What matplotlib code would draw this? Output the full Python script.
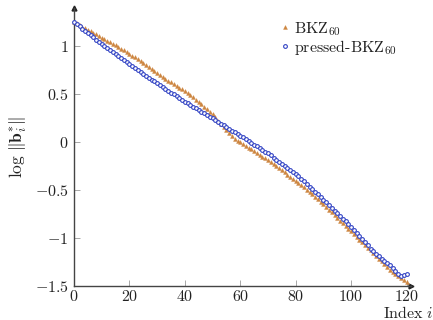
import numpy as np
import matplotlib
matplotlib.use("Agg")
import matplotlib.pyplot as plt

plt.rcParams['mathtext.fontset'] = 'cm'
plt.rcParams['font.family'] = ['DejaVu Serif']

# Data (log ||b_i^*|| per index)
bkz60 = [1.250, 1.234, 1.217, 1.201, 1.185, 1.168, 1.152, 1.136, 1.120, 1.103,
         1.087, 1.071, 1.054, 1.038, 1.022, 1.005, 0.989, 0.973, 0.957, 0.940,
         0.920, 0.900, 0.880, 0.860, 0.840, 0.820, 0.800, 0.780,
         0.760, 0.740, 0.720, 0.700, 0.680, 0.660, 0.640, 0.620, 0.600,
         0.583, 0.565, 0.548, 0.530,
         0.508, 0.486, 0.464, 0.442, 0.420,
         0.394, 0.368, 0.342, 0.316, 0.290,
         0.256, 0.222, 0.188, 0.154, 0.120,
         0.090, 0.060, 0.030,
         0.012, -0.005,
         -0.023, -0.041, -0.059, -0.077, -0.095,
         -0.114, -0.133, -0.152, -0.171, -0.190,
         -0.211, -0.233, -0.254, -0.275, -0.296, -0.318, -0.339, -0.360,
         -0.383, -0.406, -0.429, -0.451, -0.474, -0.497, -0.520,
         -0.546, -0.572, -0.598, -0.624, -0.650,
         -0.678, -0.706, -0.734, -0.762, -0.790, -0.818, -0.846, -0.874, -0.902, -0.930,
         -0.959, -0.987, -1.016, -1.044, -1.073, -1.101, -1.130,
         -1.158, -1.187, -1.215,
         -1.244, -1.273, -1.301, -1.330,
         -1.353, -1.377, -1.400,
         -1.420, -1.440, -1.460]

pressed_bkz60 = [1.250, 1.227, 1.204, 1.181, 1.158, 1.135, 1.112, 1.089, 1.066, 1.043, 1.020,
                 0.999, 0.978, 0.957, 0.936, 0.915, 0.894, 0.873, 0.852, 0.831, 0.810,
                 0.790, 0.770, 0.750, 0.730, 0.710, 0.690, 0.670, 0.650, 0.630, 0.610,
                 0.591, 0.572, 0.553, 0.534, 0.515, 0.496, 0.477, 0.458, 0.439, 0.420,
                 0.403, 0.385, 0.368, 0.350, 0.333, 0.315, 0.298, 0.280, 0.263, 0.245,
                 0.227, 0.209, 0.191, 0.173, 0.155, 0.137, 0.119, 0.101, 0.083, 0.065,
                 0.047, 0.028, 0.010, -0.009, -0.028, -0.046, -0.065, -0.083, -0.102, -0.120,
                 -0.141, -0.162, -0.183, -0.204, -0.225, -0.246, -0.267, -0.288, -0.309, -0.330,
                 -0.357, -0.384, -0.411, -0.438, -0.465, -0.492, -0.519, -0.546, -0.573, -0.600,
                 -0.629, -0.657, -0.686, -0.714, -0.743, -0.771, -0.800, -0.828, -0.857, -0.885,
                 -0.917, -0.949, -0.981, -1.013, -1.045, -1.077, -1.110,
                 -1.137, -1.163, -1.190,
                 -1.214, -1.238, -1.262, -1.286, -1.310,
                 -1.345, -1.380, -1.395, -1.390, -1.370]

xticks = [0, 20, 40, 60, 80, 100, 120]
yticks = [-1.5, -1, -0.5, 0, 0.5, 1]
ytick_labels = [r'$-1.5$', r'$-1$', r'$-0.5$', r'$0$', r'$0.5$', r'$1$']

W, H = 433, 320
fig = plt.figure(figsize=(W / 100, H / 100), dpi=100)
ax = fig.add_axes([74 / W, (H - 286) / H, 337 / W, 278 / H])

orange = '#cd853f'
blue = '#3344c4'

x1 = np.arange(len(bkz60))
x2 = np.arange(len(pressed_bkz60))
ax.plot(x1, bkz60, linestyle='none', marker='^', ms=2.8, color=orange,
        markeredgewidth=0.3, label=r'$\mathrm{BKZ}_{60}$', clip_on=False, zorder=3)
ax.plot(x2, pressed_bkz60, linestyle='none', marker='o', ms=2.7, markerfacecolor='white',
        markeredgecolor=blue, markeredgewidth=0.8, label=r'$\mathrm{pressed}\text{-}\mathrm{BKZ}_{60}$',
        clip_on=False, zorder=4)

ax.set_xlim(0, 121.6)
ax.set_ylim(-1.5, 1.395)

for s in ['top', 'right']:
    ax.spines[s].set_visible(False)
for s in ['left', 'bottom']:
    ax.spines[s].set_color('#444444')
    ax.spines[s].set_linewidth(1.0)

ax.plot(1, 0, marker='>', color='#222222', ms=3.5, transform=ax.transAxes, clip_on=False)
ax.plot(0, 1, marker='^', color='#222222', ms=3.5, transform=ax.transAxes, clip_on=False)

ax.set_xticks(xticks)
ax.set_xticklabels([r'$%d$' % v for v in xticks])
ax.set_yticks(yticks)
ax.set_yticklabels(ytick_labels)
ax.tick_params(direction='in', length=4.5, width=0.6, color='#999999',
               labelsize=11.5, labelcolor='#222222')
ax.tick_params(axis='x', pad=1.5)
ax.tick_params(axis='y', pad=4)

ax.set_ylabel(r'$\log\,\|\mathbf{b}_i^{*}\|$', fontsize=12.5, color='#222222', labelpad=4)
fig.text(383 / W, 1 - 313 / H, r'$\mathrm{Index}\ i$', fontsize=11.5, color='#222222',
         ha='left', va='center')

leg = ax.legend(loc='upper left', bbox_to_anchor=(281 / W, 1 - 20 / H),
                bbox_transform=fig.transFigure, frameon=False, fontsize=11.5,
                handlelength=0.5, handletextpad=0.3, labelspacing=0.0,
                borderpad=0, borderaxespad=0, markerscale=1.0)
for t in leg.get_texts():
    t.set_color('#222222')

fig.savefig('out.png', dpi=100)
